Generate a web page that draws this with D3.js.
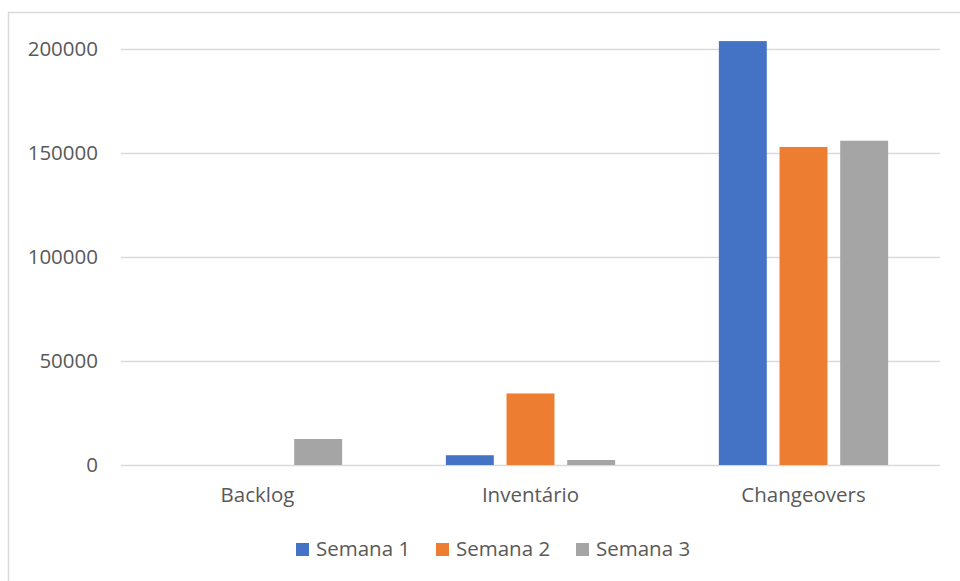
<!DOCTYPE html>
<html>
<head>
<meta charset="utf-8">
<script src="https://cdn.jsdelivr.net/npm/d3@7"></script>
<style>
  body { margin: 0; background: #fff; }
  text { font-family: "Open Sans", sans-serif; fill: #595959; }
</style>
</head>
<body>
<div id="chart"></div>
<script>
// data
const categories = ["Backlog", "Inventário", "Changeovers"];
const seriesNames = ["Semana 1", "Semana 2", "Semana 3"];
const semana1 = [0, 4700, 203800];
const semana2 = [0, 34400, 152900];
const semana3 = [12500, 2400, 155900];
const yTicks = [0, 50000, 100000, 150000, 200000];
const colors = ["#4472c4", "#ed7d31", "#a5a5a5"];

const W = 960, H = 581;
const margin = { top: 49, right: 20, bottom: 116, left: 121 },
      width = W - margin.left - margin.right,
      height = H - margin.top - margin.bottom;
const fontSize = "20.5px";

const svg = d3.select("#chart")
  .append("svg")
    .attr("width", W)
    .attr("height", H);

// chart border (right and bottom run off the picture)
svg.append("rect")
  .attr("x", 8.5).attr("y", 12.5)
  .attr("width", 1000).attr("height", 1000)
  .attr("fill", "none")
  .attr("stroke", "#d9d9d9")
  .attr("stroke-width", 1.5);

const g = svg.append("g")
  .attr("transform", `translate(${margin.left},${margin.top})`);

const x0 = d3.scaleBand()
  .domain(categories)
  .range([0, width])
  .padding(0);

const groupW = x0.bandwidth() * 0.62;
const x1 = d3.scaleBand()
  .domain(seriesNames)
  .range([(x0.bandwidth() - groupW) / 2, (x0.bandwidth() + groupW) / 2])
  .paddingInner(0.21);

const y = d3.scaleLinear()
  .domain([0, 200000])
  .range([height, 0]);

// gridlines
g.append("g")
  .call(d3.axisLeft(y).tickValues(yTicks).tickSize(-width).tickFormat(""))
  .call(s => s.select(".domain").remove())
  .selectAll("line")
    .attr("stroke", "#d9d9d9")
    .attr("stroke-width", 1.5);

// y labels
g.selectAll(".ylab")
  .data(yTicks)
  .enter()
  .append("text")
    .attr("x", -23)
    .attr("y", d => y(d))
    .attr("dy", "0.35em")
    .attr("text-anchor", "end")
    .attr("font-size", fontSize)
    .text(d => d);

// bars
const table = categories.map((c, i) => ({
  cat: c,
  vals: [semana1[i], semana2[i], semana3[i]]
}));

const grp = g.selectAll(".grp")
  .data(table)
  .enter()
  .append("g")
    .attr("transform", d => `translate(${x0(d.cat)},0)`);

grp.selectAll("rect")
  .data(d => d.vals.map((v, k) => ({ s: seriesNames[k], v, k })))
  .enter()
  .append("rect")
    .attr("x", d => x1(d.s))
    .attr("y", d => y(d.v))
    .attr("width", x1.bandwidth())
    .attr("height", d => height - y(d.v))
    .attr("fill", d => colors[d.k]);

// category labels
g.selectAll(".xlab")
  .data(categories)
  .enter()
  .append("text")
    .attr("x", d => x0(d) + x0.bandwidth() / 2)
    .attr("y", height + 37)
    .attr("text-anchor", "middle")
    .attr("font-size", fontSize)
    .text(d => d);

// legend
const legendX = [296, 436, 576];
const legend = svg.selectAll(".leg")
  .data(seriesNames)
  .enter()
  .append("g")
    .attr("transform", (d, i) => `translate(${legendX[i]},543)`);

legend.append("rect")
  .attr("width", 13).attr("height", 13)
  .attr("fill", (d, i) => colors[i]);

legend.append("text")
  .attr("x", 20)
  .attr("y", 13)
  .attr("font-size", fontSize)
  .text(d => d);
</script>
</body>
</html>
